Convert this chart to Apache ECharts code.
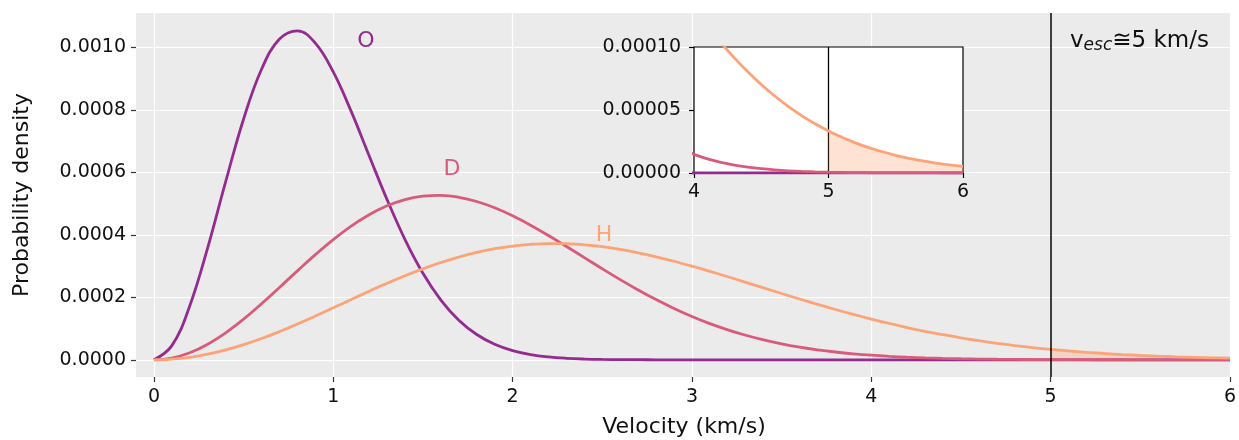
<!DOCTYPE html>
<html>
<head>
<meta charset="utf-8">
<script src="https://cdn.jsdelivr.net/npm/echarts@6/dist/echarts.min.js"></script>
<style>
  html, body { margin: 0; padding: 0; background: #fff; }
  #chart { width: 1239px; height: 440px; }
</style>
</head>
<body>
<div id="chart"></div>
<script>
// velocity grid (km/s)
var velocity = [0, 0.1, 0.2, 0.3, 0.4, 0.5, 0.6, 0.7, 0.8, 0.9, 1.0, 1.1, 1.2, 1.3, 1.4, 1.5, 1.6, 1.7, 1.8, 1.9,
  2.0, 2.1, 2.2, 2.3, 2.4, 2.5, 2.6, 2.7, 2.8, 2.9, 3.0, 3.1, 3.2, 3.3, 3.4, 3.5, 3.6, 3.7, 3.8, 3.9,
  4.0, 4.1, 4.2, 4.3, 4.4, 4.5, 4.6, 4.7, 4.8, 4.9, 5.0, 5.1, 5.2, 5.3, 5.4, 5.5, 5.6, 5.7, 5.8, 5.9, 6.0];

var oxygen = [0, 4.54e-5, 1.730e-4, 3.591e-4, 5.703e-4, 7.709e-4, 9.299e-4, 1.0266e-3, 1.0531e-3, 1.0136e-3,
  9.215e-4, 7.950e-4, 6.533e-4, 5.127e-4, 3.850e-4, 2.771e-4, 1.913e-4, 1.269e-4, 8.10e-5, 4.97e-5,
  2.94e-5, 1.67e-5, 9.2e-6, 4.9e-6, 2.5e-6, 1.2e-6, 6e-7, 3e-7, 1e-7, 0,
  0, 0, 0, 0, 0, 0, 0, 0, 0, 0, 0, 0, 0, 0, 0, 0, 0, 0, 0, 0, 0, 0, 0, 0, 0, 0, 0, 0, 0, 0, 0];

var deuterium = [0, 5.73e-6, 2.265e-5, 4.995e-5, 8.633e-5, 1.3010e-4, 1.7924e-4, 2.3154e-4, 2.8472e-4, 3.3654e-4,
  3.8491e-4, 4.2806e-4, 4.6441e-4, 4.9290e-4, 5.1284e-4, 5.2393e-4, 5.2625e-4, 5.2028e-4, 5.0670e-4, 4.8651e-4,
  4.6084e-4, 4.3082e-4, 3.9780e-4, 3.6283e-4, 3.2700e-4, 2.9137e-4, 2.5672e-4, 2.2371e-4, 1.9285e-4, 1.6450e-4,
  1.3886e-4, 1.1602e-4, 9.597e-5, 7.858e-5, 6.372e-5, 5.116e-5, 4.069e-5, 3.204e-5, 2.500e-5, 1.932e-5,
  1.479e-5, 1.122e-5, 8.41e-6, 6.28e-6, 4.64e-6, 3.39e-6, 2.46e-6, 1.76e-6, 1.26e-6, 8.9e-7,
  6.2e-7, 4.3e-7, 3.0e-7, 2.0e-7, 1.4e-7, 9e-8, 6e-8, 4e-8, 2e-8, 1e-8, 1e-8];

var hydrogen = [0, 2.03e-6, 8.08e-6, 1.799e-5, 3.153e-5, 4.838e-5, 6.815e-5, 9.036e-5, 1.1452e-4, 1.4007e-4,
  1.6644e-4, 1.9306e-4, 2.1937e-4, 2.4484e-4, 2.6895e-4, 2.9126e-4, 3.1135e-4, 3.2894e-4, 3.4370e-4, 3.5551e-4,
  3.6419e-4, 3.6974e-4, 3.7218e-4, 3.7159e-4, 3.6811e-4, 3.6195e-4, 3.5333e-4, 3.4252e-4, 3.2979e-4, 3.1549e-4,
  2.9979e-4, 2.8317e-4, 2.6581e-4, 2.4808e-4, 2.3013e-4, 2.1225e-4, 1.9467e-4, 1.7761e-4, 1.6110e-4, 1.4536e-4,
  1.3044e-4, 1.1645e-4, 1.0339e-4, 9.136e-5, 8.030e-5, 7.022e-5, 6.111e-5, 5.291e-5, 4.559e-5, 3.909e-5,
  3.336e-5, 2.833e-5, 2.394e-5, 2.015e-5, 1.687e-5, 1.405e-5, 1.165e-5, 9.61e-6, 7.90e-6, 6.46e-6, 5.25e-6];

var vEsc = 5;
var xTicks = [0, 1, 2, 3, 4, 5, 6];
var yTicks = [0, 0.0002, 0.0004, 0.0006, 0.0008, 0.0010];

var colors = { O: '#932c8e', D: '#d95b7b', H: '#fca377' };
var font = 'DejaVu Sans';

function pairs(ys) {
  return velocity.map(function (v, i) { return [v, ys[i]]; });
}
var tail = pairs(hydrogen).filter(function (p) { return p[0] >= vEsc; });

var myChart = echarts.init(document.getElementById('chart'));

function lineSeries(name, ys, color, axisIdx) {
  return {
    name: name, type: 'line', xAxisIndex: axisIdx, yAxisIndex: axisIdx,
    data: pairs(ys), smooth: 0.4, showSymbol: false, clip: true,
    lineStyle: { color: color, width: 2.8 }, z: 3
  };
}

var option = {
  animation: false,
  grid: [
    { left: 136, right: 8, top: 13, bottom: 63, show: true, backgroundColor: '#ebebeb', borderWidth: 0 },
    { left: 694, right: 276, top: 47, bottom: 267, show: true, backgroundColor: '#fff',
      borderColor: '#000', borderWidth: 1.2, z: 5 }
  ],
  xAxis: [
    {
      type: 'value', gridIndex: 0, min: -0.1, max: 6,
      axisLine: { show: false, onZero: false },
      axisTick: { show: true, length: 5, lineStyle: { color: '#333', width: 1.2 }, customValues: xTicks },
      axisLabel: { customValues: xTicks, color: '#111', fontFamily: font, fontSize: 19, margin: 11 },
      splitLine: { show: true, lineStyle: { color: '#fff', width: 1.2 } }
    },
    {
      type: 'value', gridIndex: 1, min: 4, max: 6, interval: 1, z: 6,
      axisLine: { show: false, onZero: false },
      axisTick: { show: true, length: 5, lineStyle: { color: '#000', width: 1.2 } },
      axisLabel: { color: '#111', fontFamily: font, fontSize: 19, margin: 10 },
      splitLine: { show: false }
    }
  ],
  yAxis: [
    {
      type: 'value', gridIndex: 0, min: -0.000055, max: 0.00111,
      axisLine: { show: false, onZero: false },
      axisTick: { show: true, length: 5, lineStyle: { color: '#333', width: 1.2 }, customValues: yTicks },
      axisLabel: {
        customValues: yTicks, color: '#111', fontFamily: font, fontSize: 19, margin: 10,
        formatter: function (v) { return v.toFixed(4); }
      },
      splitLine: { show: true, lineStyle: { color: '#fff', width: 1.2 } }
    },
    {
      type: 'value', gridIndex: 1, min: 0, max: 0.0001, interval: 0.00005, z: 6,
      axisLine: { show: false, onZero: false },
      axisTick: { show: true, length: 5, lineStyle: { color: '#000', width: 1.2 } },
      axisLabel: {
        color: '#111', fontFamily: font, fontSize: 19, margin: 13,
        formatter: function (v) { return v.toFixed(5); }
      },
      splitLine: { show: false }
    }
  ],
  series: [
    {
      name: 'tail', type: 'line', xAxisIndex: 0, yAxisIndex: 0, data: tail, smooth: 0.4,
      showSymbol: false, lineStyle: { width: 0 }, areaStyle: { color: 'rgba(252,163,119,0.45)', origin: 0 }, z: 2,
      markLine: {
        silent: true, symbol: 'none', label: { show: false },
        lineStyle: { color: '#000', width: 1.5, type: 'solid' },
        data: [[{ coord: [vEsc, -0.000055] }, { coord: [vEsc, 0.00111] }]]
      }
    },
    lineSeries('O', oxygen, colors.O, 0),
    lineSeries('D', deuterium, colors.D, 0),
    lineSeries('H', hydrogen, colors.H, 0),
    {
      name: 'tail inset', type: 'line', xAxisIndex: 1, yAxisIndex: 1, data: tail, smooth: 0.4,
      showSymbol: false, lineStyle: { width: 0 }, areaStyle: { color: 'rgba(252,163,119,0.45)', origin: 0 }, z: 6,
      markLine: {
        silent: true, symbol: 'none', label: { show: false },
        lineStyle: { color: '#000', width: 1.3, type: 'solid' },
        data: [{ xAxis: vEsc }]
      }
    },
    Object.assign(lineSeries('O inset', oxygen, colors.O, 1), { z: 7 }),
    Object.assign(lineSeries('D inset', deuterium, colors.D, 1), { z: 7 }),
    Object.assign(lineSeries('H inset', hydrogen, colors.H, 1), { z: 7 })
  ],
  graphic: [
    { type: 'text', x: 684, y: 427, z: 10, style: { text: 'Velocity (km/s)', align: 'center',
        verticalAlign: 'middle', fontFamily: font, fontSize: 22, fill: '#111' } },
    { type: 'text', rotation: Math.PI / 2, x: 22, y: 195, z: 10, style: { text: 'Probability density', align: 'center',
        verticalAlign: 'middle', fontFamily: font, fontSize: 22, fill: '#111' } },
    { type: 'text', x: 366, y: 41, z: 10, style: { text: 'O', align: 'center', verticalAlign: 'middle',
        fontFamily: font, fontSize: 22, fill: colors.O } },
    { type: 'text', x: 452, y: 169, z: 10, style: { text: 'D', align: 'center', verticalAlign: 'middle',
        fontFamily: font, fontSize: 22, fill: colors.D } },
    { type: 'text', x: 604, y: 235, z: 10, style: { text: 'H', align: 'center', verticalAlign: 'middle',
        fontFamily: font, fontSize: 22, fill: colors.H } },
    { type: 'text', x: 1070, y: 41, z: 10, style: {
        text: '{a|v}{b|esc}{a|≅5 km/s}', verticalAlign: 'middle', fontFamily: font, fill: '#111',
        rich: {
          a: { fontFamily: font, fontSize: 23, fill: '#111', verticalAlign: 'middle' },
          b: { fontFamily: font, fontSize: 17, fontStyle: 'italic', fill: '#111', verticalAlign: 'bottom', padding: [9, 0, 0, 0] }
        } } }
  ]
};

myChart.setOption(option);
</script>
</body>
</html>
